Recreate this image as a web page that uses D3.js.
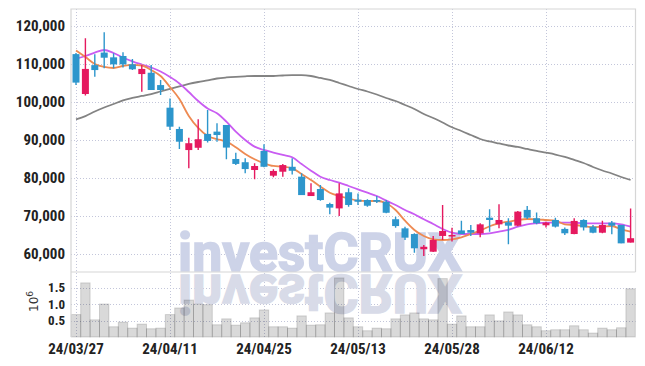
<!DOCTYPE html>
<html>
<head>
<meta charset="utf-8">
<script src="https://cdn.jsdelivr.net/npm/d3@7/dist/d3.min.js"></script>
<style>
body { margin: 0; background: #fff; }
svg { display: block; }
</style>
</head>
<body>
<svg id="chart" width="645" height="366"></svg>
<script>
// trading days (yy/mm/dd)
const dates = [
  "24/03/27","24/03/28","24/03/29","24/04/01","24/04/02","24/04/03","24/04/04","24/04/05","24/04/08","24/04/09",
  "24/04/11","24/04/12","24/04/15","24/04/16","24/04/17","24/04/18","24/04/19","24/04/22","24/04/23","24/04/24",
  "24/04/25","24/04/26","24/04/29","24/04/30","24/05/02","24/05/03","24/05/07","24/05/08","24/05/09","24/05/10",
  "24/05/13","24/05/14","24/05/16","24/05/17","24/05/20","24/05/21","24/05/22","24/05/23","24/05/24","24/05/27",
  "24/05/28","24/05/29","24/05/30","24/05/31","24/06/03","24/06/04","24/06/05","24/06/07","24/06/10","24/06/11",
  "24/06/12","24/06/13","24/06/14","24/06/17","24/06/18","24/06/19","24/06/20","24/06/21","24/06/24","24/06/25"
];
const tickDates = ["24/03/27","24/04/11","24/04/25","24/05/13","24/05/28","24/06/12"];

const opens = [
  112600,102100,109700,113000,111750,112100,109900,107350,107700,104450,
  98500,92900,87350,87950,91600,92200,93950,85000,84150,82100,
  87100,80600,81650,82950,80350,75250,77100,73150,72000,76250,
  74300,74200,74200,73750,69150,66750,65250,61250,60600,64750,
  64750,66200,66300,65450,69550,67800,68350,67450,71600,69400,
  67550,68950,66600,65250,68950,67200,65600,68250,67650,63000
];
const highs = [
  112900,116800,112550,118350,112800,113100,111300,109750,109750,105800,
  100950,93500,90600,95450,97900,94400,93950,86650,85200,83850,
  88850,82300,83700,85200,81250,78600,78150,73500,78600,77300,
  75950,74400,75250,74200,69800,67200,65450,62350,64750,72900,
  66900,68750,67650,68100,71750,73100,69400,71300,72650,70950,
  68500,69550,67000,69400,69150,67650,68750,68700,67650,72000
];
const lows = [
  104500,101700,106650,108850,108850,109050,108400,102700,103150,101850,
  92650,87650,82550,87350,89350,89550,84900,83400,81250,79650,
  82800,80200,80350,80950,75500,75250,74000,70450,70000,72450,
  72900,72450,73400,70700,66900,63700,60350,59450,60500,63700,
  63300,65250,64750,64400,65850,66750,62550,67300,69200,67800,
  67000,67000,65000,65200,66150,65450,65450,65200,62800,63000
];
const closes = [
  105100,108700,108400,111650,109900,109900,108600,108700,103150,103150,
  93500,89550,89150,90200,89750,91300,88000,83700,82350,83150,
  82950,81850,83400,81900,75500,76250,74200,72200,75950,72900,
  73750,72700,73750,70850,67350,64300,61500,61900,63700,66050,
  65000,65250,65600,67800,68950,68950,67450,71150,69550,68100,
  68250,67200,65450,68700,67000,65600,67650,67450,62800,64150
];
const volumes = [
  680000,1640000,520000,1000000,310000,450000,270000,390000,250000,270000,
  680000,880000,1120000,1000000,980000,370000,550000,360000,430000,580000,
  820000,310000,310000,270000,640000,360000,370000,730000,1790000,580000,
  310000,190000,270000,250000,550000,670000,730000,550000,520000,1770000,
  390000,640000,310000,310000,670000,490000,760000,670000,370000,310000,
  190000,220000,220000,340000,220000,120000,270000,220000,280000,1460000
];

// moving averages
const ma5 = [
  113550,111840,110000,109210,108950,109470,109740,109600,108420,106840,
  103950,100790,96320,93160,91050,90260,89550,88080,86320,84920,
  83870,83160,82970,82550,81050,79470,77710,76130,75260,74650,
  74030,73950,73950,73340,71580,68760,66320,64740,63870,63680,
  63870,64390,65260,66130,67300,68080,68500,68950,69210,69130,
  68950,68760,67820,67630,67370,67030,67190,67370,66500,65870
];
const ma20 = [
  111400,112100,113000,113680,112890,111710,110710,109870,109080,108030,
  106580,104870,102630,100260,98290,97020,94820,92190,90000,88250,
  87370,86670,86050,85450,83680,81920,80340,79470,78760,77890,
  77010,76130,75260,74030,72890,71580,70440,69130,67890,66580,
  65610,65260,65260,65260,65450,65870,66320,67190,67820,68080,
  68240,68240,68240,68240,68080,68080,68080,68080,67820,67190
];
const ma60 = [
  95450,96300,97500,98550,99470,100400,101050,101580,102100,102760,
  103420,104080,104740,105260,105700,106180,106450,106630,106760,106840,
  106840,106840,106970,107050,107050,106840,106320,105790,105000,104210,
  103420,102760,101970,101050,100260,99210,98160,96840,95790,94600,
  93340,92370,91320,90260,89610,89080,88550,88160,87630,87110,
  86670,86180,85530,84740,83950,82890,81970,81180,80260,79470
];
const priceTicks = [60000, 70000, 80000, 90000, 100000, 110000, 120000];
const volTicks = [500000, 1000000, 1500000];

const upColor = "#e5195f";
const downColor = "#2d96cc";
const gridColor = "#c3c6da";
const frameColor = "#d6d6d6";
const labelFont = "'Liberation Sans Narrow', 'Roboto Condensed', Roboto, sans-serif";

const left = 71, right = 635.5;
const priceTop = 9, priceBottom = 272, volBottom = 337;

const svg = d3.select("#chart");

const x = d3.scaleBand().domain(dates).range([71.3, 635.3]).padding(0);
const bw = x.bandwidth();
const cx = d => x(d) + bw / 2;
const y = d3.scaleLinear().domain([55260, 124470]).range([priceBottom, priceTop]);
const v = d3.scaleLinear().domain([0, 1970000]).range([volBottom, priceBottom]);

const candles = dates.map((d, i) => ({
  date: d, open: opens[i], high: highs[i], low: lows[i], close: closes[i], vol: volumes[i]
}));

svg.append("defs").html(`
  <clipPath id="priceClip"><rect x="${left}" y="${priceTop}" width="${right - left}" height="${priceBottom - priceTop}"/></clipPath>
  <clipPath id="volClip"><rect x="${left}" y="${priceBottom}" width="${right - left}" height="${volBottom - priceBottom}"/></clipPath>
  <linearGradient id="reflect" gradientUnits="userSpaceOnUse" x1="0" y1="${priceBottom}" x2="0" y2="${priceBottom + 42}">
    <stop offset="0" stop-color="#d2d6e6" stop-opacity="1"/>
    <stop offset="1" stop-color="#dfe2ec" stop-opacity="0.55"/>
  </linearGradient>
`);

// grid
const grid = svg.append("g")
  .attr("stroke", gridColor)
  .attr("stroke-width", 1)
  .attr("stroke-dasharray", "1,2");
grid.selectAll("line.h")
  .data(priceTicks)
  .join("line")
  .attr("class", "h")
  .attr("x1", left).attr("x2", right)
  .attr("y1", d => Math.round(y(d)) + 0.5).attr("y2", d => Math.round(y(d)) + 0.5);
grid.selectAll("line.vh")
  .data(volTicks)
  .join("line")
  .attr("class", "vh")
  .attr("x1", left).attr("x2", right)
  .attr("y1", d => Math.round(v(d)) + 0.5).attr("y2", d => Math.round(v(d)) + 0.5);
grid.selectAll("line.v")
  .data(tickDates)
  .join("line")
  .attr("class", "v")
  .attr("x1", d => Math.round(cx(d)) + 0.5).attr("x2", d => Math.round(cx(d)) + 0.5)
  .attr("y1", priceTop).attr("y2", volBottom);

// watermark and its reflection
const wmX = 178, wmW = 284, wmBase = 271;
svg.append("text")
  .attr("x", wmX).attr("y", wmBase)
  .attr("textLength", wmW).attr("lengthAdjust", "spacingAndGlyphs")
  .attr("font-family", "Roboto, 'DejaVu Sans', sans-serif")
  .attr("font-weight", 700)
  .attr("font-size", 54)
  .attr("fill", "#cdd3e8")
  .attr("stroke", "#cdd3e8")
  .attr("stroke-width", 1.6)
  .attr("clip-path", "url(#priceClip)")
  .text("investCRUX");
svg.append("g")
  .attr("clip-path", "url(#volClip)")
  .append("text")
  .attr("transform", `translate(0,${2 * wmBase + 4}) scale(1,-1)`)
  .attr("x", wmX).attr("y", wmBase)
  .attr("textLength", wmW).attr("lengthAdjust", "spacingAndGlyphs")
  .attr("font-family", "Roboto, 'DejaVu Sans', sans-serif")
  .attr("font-weight", 700)
  .attr("font-size", 54)
  .attr("fill", "#d8dbe8")
  .attr("stroke", "#d8dbe8")
  .attr("stroke-width", 1.6)
  .text("investCRUX");

// volume bars
svg.append("g")
  .selectAll("rect")
  .data(candles)
  .join("rect")
  .attr("x", d => x(d.date))
  .attr("y", d => v(d.vol))
  .attr("width", bw)
  .attr("height", d => volBottom - v(d.vol))
  .attr("fill", "rgba(0,0,0,0.15)")
  .attr("stroke", "rgba(0,0,0,0.14)")
  .attr("stroke-width", 1);

// moving averages
const plot = svg.append("g").attr("clip-path", "url(#priceClip)");
const maLine = vals => d3.line()
  .x((d, i) => cx(dates[i]))
  .y(d => y(d))
  .curve(d3.curveMonotoneX)(vals);
[[ma60, "#838383"], [ma20, "#c95cf2"], [ma5, "#ee8a52"]].forEach(([vals, col]) => {
  plot.append("path")
    .attr("d", maLine(vals))
    .attr("fill", "none")
    .attr("stroke", col)
    .attr("stroke-width", 1.8);
});

// candles
const candle = plot.append("g")
  .selectAll("g")
  .data(candles)
  .join("g")
  .attr("fill", d => d.close >= d.open ? upColor : downColor)
  .attr("stroke", d => d.close >= d.open ? upColor : downColor);
candle.append("line")
  .attr("x1", d => cx(d.date)).attr("x2", d => cx(d.date))
  .attr("y1", d => y(d.high)).attr("y2", d => y(d.low))
  .attr("stroke-width", 1.4);
candle.append("rect")
  .attr("x", d => cx(d.date) - 3.5)
  .attr("width", 7)
  .attr("y", d => y(Math.max(d.open, d.close)))
  .attr("height", d => Math.max(1.5, Math.abs(y(d.open) - y(d.close))))
  .attr("stroke", "none");

// frame
const frame = svg.append("g").attr("stroke", frameColor).attr("stroke-width", 1.2).attr("fill", "none");
frame.append("path").attr("d", `M${left},${volBottom}V${priceTop}H${right}V${priceBottom}`);
frame.append("line").attr("x1", left).attr("x2", right).attr("y1", priceBottom).attr("y2", priceBottom);

// axes
const yAxis = svg.append("g")
  .attr("transform", `translate(${left},0)`)
  .call(d3.axisLeft(y).tickValues(priceTicks).tickFormat(d3.format(",")).tickSize(0).tickPadding(6));
yAxis.select(".domain").remove();
yAxis.selectAll("text")
  .attr("font-family", labelFont)
  .attr("font-weight", 700)
  .attr("font-size", 15)
  .attr("fill", "#222");

const vAxis = svg.append("g")
  .attr("transform", `translate(${left},0)`)
  .call(d3.axisLeft(v).tickValues(volTicks).tickFormat(d => (d / 1e6).toFixed(1)).tickSize(0).tickPadding(6));
vAxis.select(".domain").remove();
vAxis.selectAll("text")
  .attr("font-family", labelFont)
  .attr("font-weight", 700)
  .attr("font-size", 13)
  .attr("fill", "#222");

const xAxis = svg.append("g")
  .attr("transform", `translate(0,${volBottom})`)
  .call(d3.axisBottom(x).tickValues(tickDates).tickSize(0).tickPadding(6));
xAxis.select(".domain").remove();
xAxis.selectAll("text")
  .attr("font-family", labelFont)
  .attr("font-weight", 700)
  .attr("font-size", 15)
  .attr("fill", "#222");

// 10^6 unit label
const unit = svg.append("text")
  .attr("transform", "translate(38,312) rotate(-90)")
  .attr("font-family", "'DejaVu Sans', sans-serif")
  .attr("font-size", 12)
  .attr("fill", "#333");
unit.append("tspan").text("10");
unit.append("tspan").attr("dy", -5).attr("font-size", 9).text("6");
</script>
</body>
</html>
